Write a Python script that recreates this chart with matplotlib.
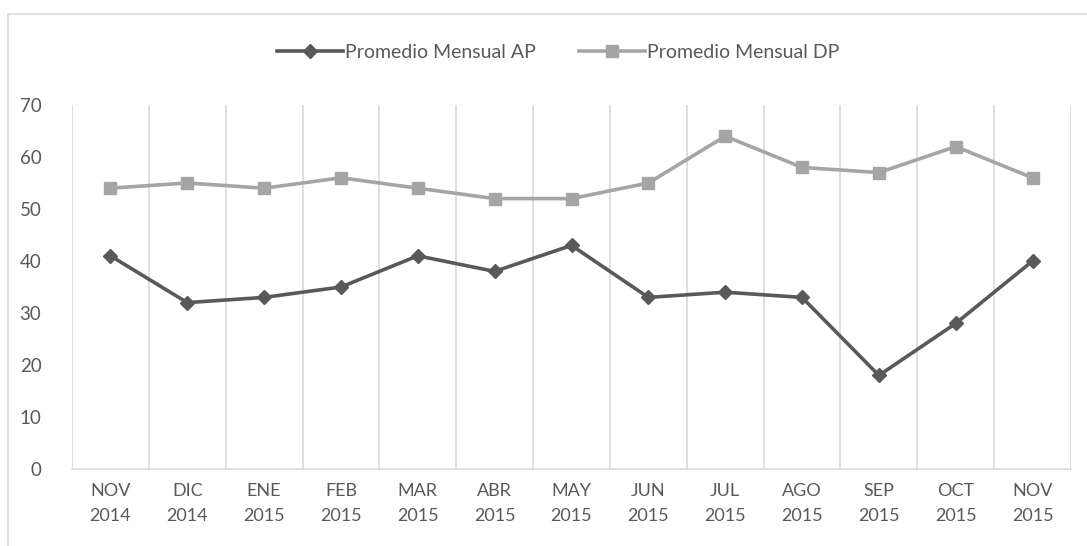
import matplotlib.pyplot as plt
from matplotlib.lines import Line2D

months = ["NOV\n2014", "DIC\n2014", "ENE\n2015", "FEB\n2015", "MAR\n2015", "ABR\n2015",
          "MAY\n2015", "JUN\n2015", "JUL\n2015", "AGO\n2015", "SEP\n2015", "OCT\n2015", "NOV\n2015"]
ap = [41, 32, 33, 35, 41, 38, 43, 33, 34, 33, 18, 28, 40]
dp = [54, 55, 54, 56, 54, 52, 52, 55, 64, 58, 57, 62, 56]

plt.rcParams['font.family'] = ['Lato', 'DejaVu Sans']
txt = '#595959'
grid = '#D9D9D9'

fig = plt.figure(figsize=(10.87, 5.46), dpi=100)
ax = fig.add_axes([72/1087, 1 - 469/546, (1071 - 72)/1087, (469 - 105)/546])

x = list(range(len(months)))
ax.plot(x, ap, color='#595959', lw=2.6, marker='D', ms=7.5, label='Promedio Mensual AP', zorder=3)
ax.plot(x, dp, color='#A5A5A5', lw=2.6, marker='s', ms=9, label='Promedio Mensual DP', zorder=3)

ax.set_xlim(-0.5, len(months) - 0.5)
ax.set_ylim(0, 70)
ax.set_yticks(range(0, 71, 10))
ax.set_xticks(x)
ax.set_xticklabels(months, fontsize=13, color=txt, linespacing=1.7)
ax.tick_params(axis='y', labelsize=13.5, labelcolor=txt, length=0, pad=22)
ax.tick_params(axis='x', length=0, pad=10)

# vertical gridlines between categories
for b in range(len(months) + 1):
    ax.axvline(b - 0.5, color=grid, lw=1.2, zorder=1)
for s in ['top', 'right', 'left']:
    ax.spines[s].set_visible(False)
ax.spines['bottom'].set_color(grid)
ax.spines['bottom'].set_linewidth(1.2)

ax.legend(loc='center', bbox_to_anchor=(558/1087, 1 - 52/546), bbox_transform=fig.transFigure,
          ncol=2, frameon=False, fontsize=14, labelcolor=txt, handlelength=3.4,
          handletextpad=0.1, columnspacing=2.2)

# chart area border
fig.add_artist(Line2D([8/1087, 8/1087, 1], [0, 1 - 14/546, 1 - 14/546],
                      transform=fig.transFigure, color=grid, lw=1.2))

fig.savefig('out.png', dpi=100)
